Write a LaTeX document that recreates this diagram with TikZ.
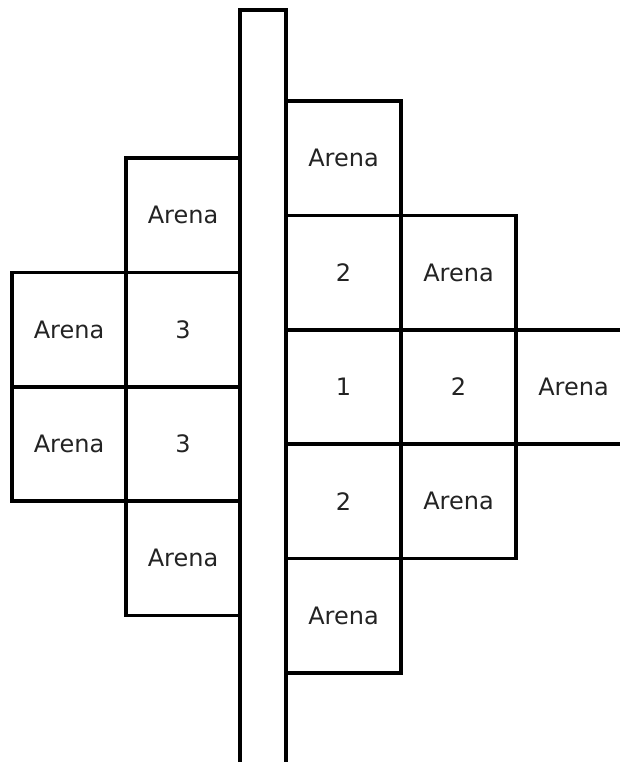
\documentclass[tikz,border=0pt]{standalone}
\usepackage{fontspec}
\setmainfont{DejaVu Sans}
\usepackage{xcolor}
\definecolor{celltext}{RGB}{35,35,35}

\begin{document}
\begin{tikzpicture}[x=1pt, y=-1pt,
    cell/.style={rectangle, draw=black, line width=3.6pt, minimum width=114.5pt, minimum height=114.4pt, inner sep=0pt, font=\fontsize{24}{28}\selectfont, text=celltext},
    wallbar/.style={rectangle, draw=black, line width=3.6pt, minimum width=46pt, minimum height=780pt, inner sep=0pt}
]
    \clip (0,0) rectangle (620,762);
    \node[wallbar] (wall) at (263, 400) {};
    % left side
    \node[cell] (L1) at (183, 215.2) {Arena};
    \node[cell] (L2) at (183, 329.6) {3};
    \node[cell] (L3) at (183, 444.0) {3};
    \node[cell] (L4) at (183, 558.4) {Arena};
    \node[cell] (LL1) at (69, 329.6) {Arena};
    \node[cell] (LL2) at (69, 444.0) {Arena};
    % right side
    \node[cell] (R1) at (343.5, 158.2) {Arena};
    \node[cell] (R2) at (343.5, 272.6) {2};
    \node[cell] (R3) at (343.5, 387.0) {1};
    \node[cell] (R4) at (343.5, 501.4) {2};
    \node[cell] (R5) at (343.5, 615.8) {Arena};
    \node[cell] (RR1) at (458.5, 272.6) {Arena};
    \node[cell] (RR2) at (458.5, 387.0) {2};
    \node[cell] (RR3) at (458.5, 501.4) {Arena};
    \node[cell] (RRR) at (573.5, 387.0) {Arena};
\end{tikzpicture}
\end{document}
